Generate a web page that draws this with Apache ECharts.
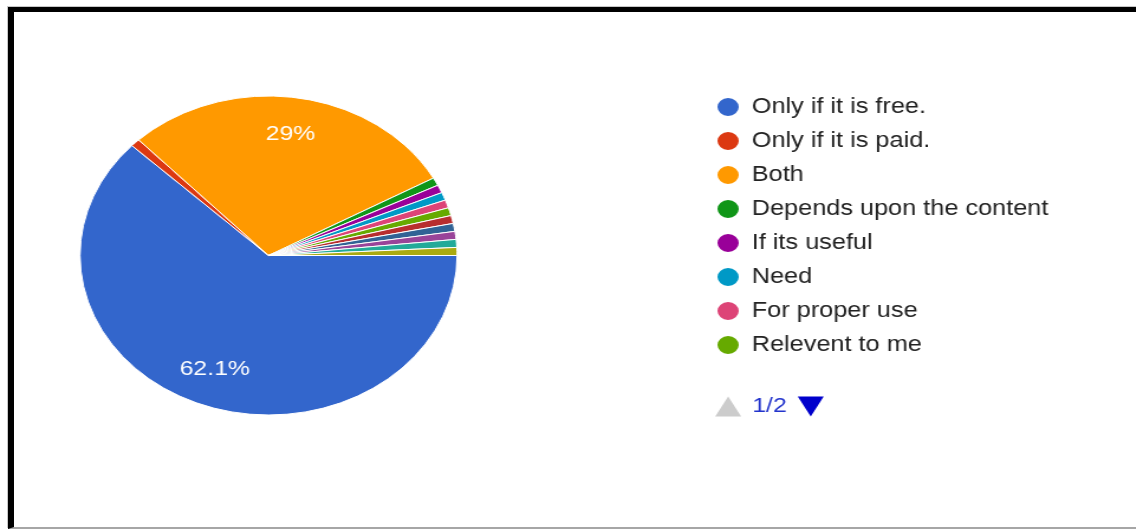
<!DOCTYPE html>
<html>
<head>
<meta charset="utf-8">
<script src="https://cdn.jsdelivr.net/npm/echarts@6/dist/echarts.min.js"></script>
<style>
  html, body { margin: 0; padding: 0; background: #fff; overflow: hidden; }
  #frame {
    position: absolute; left: 8px; top: 7px; width: 1200px; height: 515px;
    border-left: 6px solid #000; border-top: 5px solid #000; border-bottom: 2px solid #a6a6a6;
    box-shadow: -1px -1px 0 #c8c8c8;
  }
  /* the chart is laid out at 961px and stretched to the full 1136px width */
  #chart {
    position: absolute; left: 0; top: 0; width: 961px; height: 529px;
    transform: scaleX(1.182); transform-origin: 0 0;
  }
</style>
</head>
<body>
<div id="frame"></div>
<div id="chart"></div>
<script>
// Survey answers (legend order) and number of responses for each
const answers = [
  'Only if it is free.',
  'Only if it is paid.',
  'Both',
  'Depends upon the content',
  'If its useful',
  'Need',
  'For proper use',
  'Relevent to me',
  'If required',
  'Sometimes',
  'Not sure',
  'Maybe',
  'Never'
];
const responses = [77, 1, 36, 1, 1, 1, 1, 1, 1, 1, 1, 1, 1];
const sliceColors = [
  '#3366cc', '#dc3912', '#ff9900', '#109618', '#990099', '#0099c6', '#dd4477',
  '#66aa00', '#b82e2e', '#316395', '#994499', '#22aa99', '#aaaa11'
];
// slices below this share get no percentage label
const labelMinPercent = 5;

const FONT = '"Liberation Sans", Arial, sans-serif';
const total = responses.reduce((a, b) => a + b, 0);
const sliceData = answers.map((name, i) => ({
  name: name,
  value: responses[i],
  itemStyle: { color: sliceColors[i] }
}));

function pctLabel(p) {
  const pct = p.value / total * 100;
  if (pct < labelMinPercent) return '';
  return (Math.round(pct * 10) / 10) + '%';
}

const chart = echarts.init(document.getElementById('chart'), null, { renderer: 'canvas' });
chart.setOption({
  animation: false,
  legend: {
    type: 'scroll',
    orient: 'vertical',
    left: 605,
    top: 96,
    height: 321,
    padding: 0,
    icon: 'circle',
    itemWidth: 20,
    itemHeight: 20,
    itemGap: 12,
    textStyle: { fontFamily: FONT, fontSize: 21.4, color: '#222222', lineHeight: 20, padding: [0, 0, 0, 5] },
    pageButtonPosition: 'end',
    pageButtonItemGap: 0,
    pageButtonGap: 36,
    pageIconSize: [212, 20],
    pageIcons: {
      vertical: ['path://M0,20L11,0L22,20Z', 'path://M0,0L22,0L11,20ZM212,0L212,0']
    },
    pageIconColor: '#0000cc',
    pageIconInactiveColor: '#cccccc',
    pageTextStyle: { color: '#2233cc', fontSize: 21, fontFamily: FONT },
    data: answers
  },
  series: [
    {
      type: 'pie',
      name: 'Responses',
      center: [227.2, 255.5],
      radius: 159.5,
      startAngle: 0,
      clockwise: true,
      data: sliceData,
      itemStyle: { borderColor: '#ffffff', borderWidth: 1 },
      label: { show: false },
      labelLine: { show: false },
      emphasis: { scale: false }
    },
    {
      // percentage labels sit at three quarters of the radius
      type: 'pie',
      name: 'Labels',
      center: [227.2, 255.5],
      radius: [79.75, 159.5],
      startAngle: 0,
      clockwise: true,
      silent: true,
      avoidLabelOverlap: false,
      data: answers.map((name, i) => ({ name: name, value: responses[i] })),
      itemStyle: { color: 'rgba(0,0,0,0)', borderWidth: 0 },
      label: {
        show: true,
        position: 'inside',
        formatter: pctLabel,
        color: '#ffffff',
        fontSize: 21,
        fontFamily: FONT,
        textBorderWidth: 0
      },
      labelLine: { show: false }
    }
  ]
});
</script>
</body>
</html>
